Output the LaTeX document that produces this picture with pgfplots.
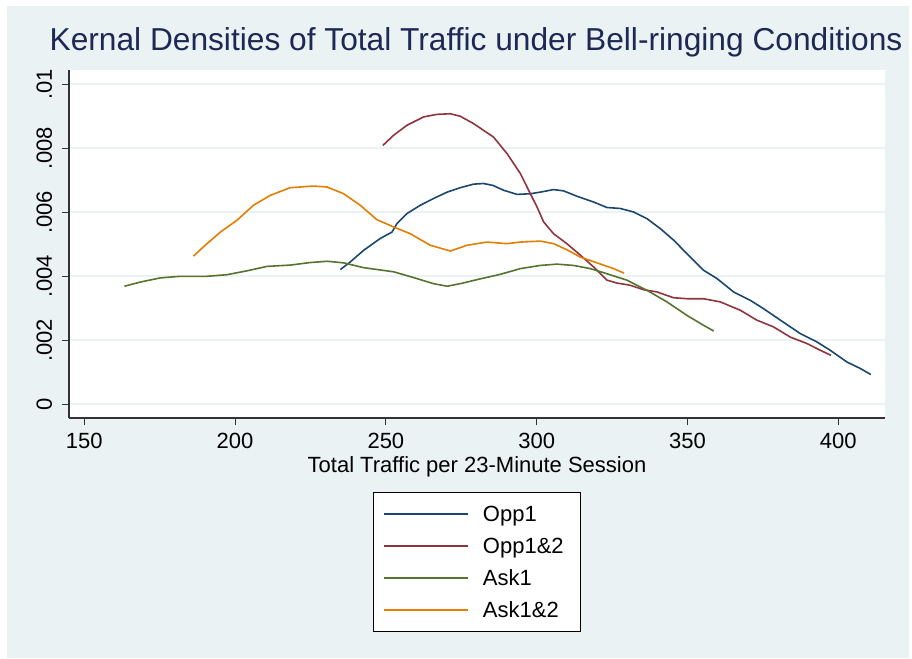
\documentclass[border=0pt]{standalone}
\usepackage{pgfplots}
\pgfplotsset{compat=1.18}
\usepackage{fontspec}
\setmainfont{Liberation Sans}
\definecolor{bgc}{RGB}{234,242,243}
\definecolor{snavy}{RGB}{26,71,111}
\definecolor{smaroon}{RGB}{144,53,59}
\definecolor{sgreen}{RGB}{85,117,47}
\definecolor{sorange}{RGB}{227,126,0}
\definecolor{titlec}{RGB}{30,40,85}
\newcommand{\tfont}{\fontsize{22}{26}\selectfont}
\begin{document}
\begin{tikzpicture}[x=1pt,y=1pt]
\fill[white] (0,0) rectangle (912,658);
\fill[bgc] (7,0) rectangle (909,652);
\begin{axis}[
  at={(69pt,240pt)}, anchor=south west,
  scale only axis, width=816pt, height=348pt,
  xmin=144.93, xmax=415.5, ymin=-0.000428, ymax=0.010447,
  axis x line*=bottom, axis y line*=left,
  axis line style={black!80, line width=1.1pt, -},
  axis background/.style={fill=white},
  tick align=outside, major tick length=7pt,
  every tick/.style={black!80, line width=1.1pt},
  xtick={150,200,250,300,350,400},
  ytick={0,0.002,0.004,0.006,0.008,0.01},
  yticklabels={0,.002,.004,.006,.008,.01},
  scaled y ticks=false,
  /pgf/number format/assume math mode=true,
  ymajorgrids, grid style={bgc, line width=1.8pt},
  xticklabel shift=7pt, yticklabel shift=10pt,
  xticklabel style={font=\tfont, inner sep=0pt, text height=15.8pt, text depth=0pt, anchor=north},
  yticklabel style={font=\tfont, inner sep=0pt, text height=15.8pt, text depth=0pt, rotate=90, anchor=south},
  title={Kernal Densities of Total Traffic under Bell-ringing Conditions},
  title style={at={(axis description cs:0.4988,1.0374)}, anchor=base, font=\fontsize{31.7}{36}\selectfont, text=titlec, inner sep=0pt},
  xlabel={Total Traffic per 23-Minute Session},
  xlabel style={at={(axis description cs:0.5,-0.158)}, anchor=base, font=\tfont, inner sep=0pt},
  legend style={at={(axis description cs:0.5,-0.2126)}, anchor=north, draw=black, line width=0.8pt, fill=white, font=\tfont,
    row sep=16pt, column sep=14pt, inner xsep=10pt, inner ysep=13.5pt,
    nodes={inner sep=0pt, text height=16pt, text depth=0pt}},
  legend cell align=left,
  legend image code/.code={\draw[#1, line width=1.6pt] (0pt,0pt) -- (84pt,0pt);},
  every axis plot/.append style={line width=1.6pt},
]
\addplot[snavy] coordinates {
(234.9,0.00421) (238.2,0.00445) (242.6,0.00481) (248.1,0.00518) (252.0,0.00538)
(253.7,0.00565) (257.0,0.00596) (261.4,0.00622) (265.8,0.00643) (270.3,0.00663)
(274.7,0.00677) (279.1,0.00688) (282.4,0.00690) (285.5,0.00684) (289.0,0.00669)
(293.5,0.00656) (297.9,0.00658) (301.2,0.00663) (305.6,0.00671) (308.9,0.00667)
(313.4,0.00650) (318.9,0.00632) (323.3,0.00615) (327.7,0.00612) (332.1,0.00601)
(336.6,0.00580) (341.0,0.00549) (345.4,0.00513) (349.8,0.00471) (355.3,0.00419)
(359.8,0.00393) (365.3,0.00351) (370.8,0.00325) (375.2,0.00299) (380.8,0.00263)
(387.4,0.00221) (392.9,0.00195) (397.3,0.00169) (402.9,0.00132) (407.3,0.00112)
(410.8,0.00093)
};
\addlegendentry{Opp1}
\addplot[smaroon] coordinates {
(249.0,0.00809) (252.6,0.00841) (257.0,0.00872) (262.5,0.00898) (266.9,0.00906)
(271.4,0.00908) (274.7,0.00900) (279.1,0.00877) (285.7,0.00835) (290.2,0.00783)
(294.6,0.00721) (297.9,0.00658) (300.1,0.00617) (302.3,0.00570) (305.6,0.00533)
(310.0,0.00502) (314.5,0.00466) (318.9,0.00429) (323.3,0.00388) (326.6,0.00379)
(331.0,0.00372) (335.5,0.00358) (339.9,0.00351) (345.4,0.00333) (349.8,0.00330)
(355.3,0.00330) (360.9,0.00320) (367.5,0.00294) (373.0,0.00263) (378.5,0.00242)
(384.1,0.00210) (389.6,0.00190) (394.0,0.00169) (397.6,0.00153)
};
\addlegendentry{Opp1\&2\hspace*{7pt}}
\addplot[sgreen] coordinates {
(163.3,0.00369) (168.6,0.00382) (175.2,0.00395) (181.8,0.00400) (190.7,0.00400)
(197.3,0.00405) (203.9,0.00417) (210.6,0.00431) (218.3,0.00435) (224.9,0.00443)
(230.5,0.00447) (236.0,0.00442) (242.6,0.00427) (252.6,0.00414) (259.2,0.00396)
(265.8,0.00377) (270.3,0.00369) (274.7,0.00377) (281.3,0.00392) (287.9,0.00406)
(294.6,0.00424) (301.2,0.00434) (306.7,0.00438) (312.2,0.00434) (317.8,0.00424)
(323.3,0.00408) (329.9,0.00388) (336.6,0.00356) (343.2,0.00320) (349.8,0.00278)
(355.3,0.00247) (358.7,0.00229)
};
\addlegendentry{Ask1}
\addplot[sorange] coordinates {
(186.2,0.00463) (189.5,0.00492) (195.1,0.00538) (200.6,0.00575) (206.1,0.00622)
(211.7,0.00653) (218.3,0.00677) (226.0,0.00682) (230.5,0.00679) (236.0,0.00658)
(241.5,0.00622) (247.0,0.00577) (252.6,0.00554) (258.1,0.00533) (264.7,0.00497)
(271.4,0.00479) (276.9,0.00497) (283.5,0.00507) (290.1,0.00502) (294.6,0.00507)
(301.2,0.00510) (305.6,0.00502) (310.0,0.00483) (314.5,0.00460) (320.0,0.00442)
(325.5,0.00424) (329.0,0.00410)
};
\addlegendentry{Ask1\&2}
\end{axis}
\end{tikzpicture}
\end{document}
